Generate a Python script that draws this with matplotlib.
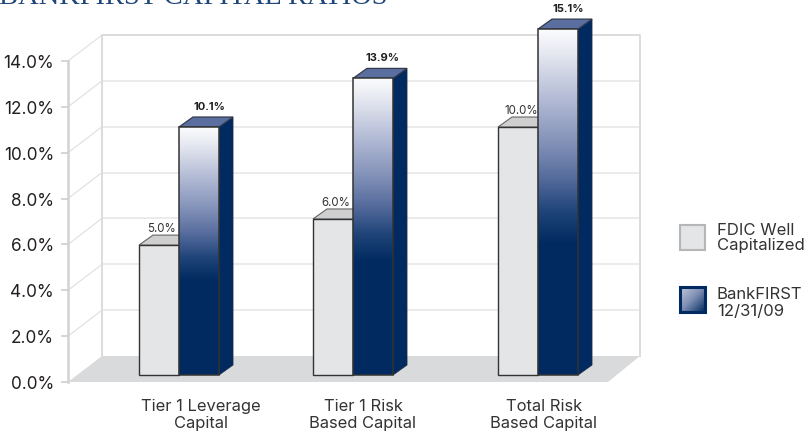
import numpy as np
import matplotlib.pyplot as plt
from matplotlib.colors import LinearSegmentedColormap
from matplotlib.patches import Polygon, Rectangle

plt.rcParams['font.family'] = ['Inter', 'DejaVu Sans']

categories = ['Tier 1 Leverage\nCapital', 'Tier 1 Risk\nBased Capital', 'Total Risk\nBased Capital']
fdic_labels = ['5.0%', '6.0%', '10.0%']
bank_labels = ['10.1%', '13.9%', '15.1%']
# tops as drawn against the axis, the picture does not follow its own labels
fdic_heights = [5.97, 7.11, 11.12]
bank_heights = [11.12, 13.24, 15.39]
y_ticks = [0, 2, 4, 6, 8, 10, 12, 14]
series_names = ['FDIC Well\nCapitalized', 'BankFIRST\n12/31/09']

NAVY = '#002a60'
PX = 22.93  # pixels per axis unit
BASE = 7 / PX  # bars stand a little behind the front edge
WALL_Y = 26 / PX
WALL_X = 34
DEPTH_X = 14
DEPTH_Y = 10 / PX
BAR_W = 40
group_x = [139, 313, 498]

bar_cmap = LinearSegmentedColormap.from_list('bar', [
    (0.0, '#fbfcfd'), (0.12, '#e4e7f0'), (0.32, '#b4bcd6'), (0.5, '#8a98bd'),
    (0.68, '#5a6f9f'), (0.85, '#1f4479'), (1.0, NAVY)])

fig = plt.figure(figsize=(8.09, 4.35), dpi=100)
ax = fig.add_axes([0, 0, 1, 1])
ax.axis('off')

x0, x1 = 68, 608

# floor and walls
ax.add_patch(Polygon([(x0, 0), (x1, 0), (x1 + WALL_X - 2, WALL_Y), (x0 + WALL_X, WALL_Y)],
                     fc='#d9dadb', ec='none', zorder=1))
for t in y_ticks[1:-1]:
    ax.plot([x0 + WALL_X, x1 + WALL_X - 2], [t + WALL_Y, t + WALL_Y], color='#e6e6e6', lw=1.1, zorder=1)
for t in y_ticks[1:]:
    ax.plot([x0, x0 + WALL_X], [t, t + WALL_Y], color='#e2e2e2', lw=0.9, zorder=1)
ax.plot([x0 + WALL_X, x0 + WALL_X, x1 + WALL_X - 2, x1 + WALL_X - 2],
        [WALL_Y, 14 + WALL_Y, 14 + WALL_Y, WALL_Y], color='#dcdcdc', lw=1.4, zorder=1)
ax.plot([x0, x0], [0, 14], color='#d2d2d2', lw=1.8, zorder=2)
for t in y_ticks:
    ax.plot([x0 - 6, x0], [t, t], color='#d2d2d2', lw=1.3, zorder=2)
    ax.text(x0 - 14, t - 1.5 / PX, f'{t:.1f}%', ha='right', va='center', fontsize=12.4, color='#231f20')

edge = '#333333'
for x, hf, hb, lf, lb in zip(group_x, fdic_heights, bank_heights, fdic_labels, bank_labels):
    # FDIC bar
    xb = x + BAR_W
    ax.add_patch(Polygon([(x, hf), (x + DEPTH_X, hf + DEPTH_Y), (xb + DEPTH_X, hf + DEPTH_Y), (xb, hf)],
                         fc='#cfcfcf', ec='#666666', lw=0.8, zorder=3))
    ax.bar(x, hf - BASE, BAR_W, bottom=BASE, align='edge', color='#e4e5e7', ec=edge, lw=1.0, zorder=4)
    # BankFIRST bar: side and top first, gradient front after
    top = hb
    ax.add_patch(Polygon([(xb + BAR_W, BASE), (xb + BAR_W + DEPTH_X, BASE + DEPTH_Y),
                          (xb + BAR_W + DEPTH_X, top + DEPTH_Y), (xb + BAR_W, top)],
                         fc=NAVY, ec='#1c2c48', lw=0.6, zorder=5))
    ax.add_patch(Polygon([(xb, top), (xb + DEPTH_X, top + DEPTH_Y),
                          (xb + BAR_W + DEPTH_X, top + DEPTH_Y), (xb + BAR_W, top)],
                         fc='#5a6f9f', ec='#333a4d', lw=0.9, zorder=5))
    span = top - BASE
    grad = np.linspace(0, 1, 256).reshape(-1, 1)
    ax.imshow(grad, extent=(xb, xb + BAR_W, top - 0.62 * span, top), aspect='auto', cmap=bar_cmap,
              origin='upper', zorder=6, vmin=0, vmax=1)
    ax.bar(xb, top - 0.62 * span - BASE, BAR_W, bottom=BASE, align='edge', color=NAVY, ec='none', zorder=6)
    ax.bar(xb, span, BAR_W, bottom=BASE, align='edge', color='none', ec=edge, lw=1.1, zorder=7)
    # value labels
    ax.text(x + 23, hf + DEPTH_Y + 0.05, lf, ha='center', va='bottom', fontsize=8.3, color='#333333', zorder=8)
    ax.text(xb + 30, top + DEPTH_Y + 0.26, lb, ha='center', va='bottom', fontsize=8.0, fontweight='bold',
            color='#231f20', zorder=8)

cat_x = [201, 363, 544]
for cx, cat in zip(cat_x, categories):
    ax.text(cx, -32 / PX, cat, ha='center', va='center', fontsize=11.9, color='#333333', linespacing=1.24)

# legend
ax.add_patch(Rectangle((680, (383 - 251) / PX), 25, 25 / PX, fc='#e4e5e7', ec='#b5b6b8', lw=1.5, zorder=3))
ax.text(717, (383 - 238) / PX, series_names[0], va='center', fontsize=12, color='#333333', linespacing=1.04)
ax.text(717, (383 - 303) / PX, series_names[1], va='center', fontsize=12, color='#333333', linespacing=1.16)
gx, gy = np.meshgrid(np.linspace(0, 1, 64), np.linspace(0, 1, 64))
ax.imshow((gx + gy) / 2, extent=(680, 705, (383 - 313) / PX, (383 - 288) / PX), aspect='auto',
          cmap=LinearSegmentedColormap.from_list('sw', ['#c4cade', '#7c8cb2', NAVY]), origin='upper', zorder=4)
ax.add_patch(Rectangle((680, (383 - 313) / PX), 25, 25 / PX, fc='none', ec=NAVY, lw=2.2, zorder=5))

# title is cut off by the top of the picture
ax.text(-1, (383 - 4) / PX, 'BANKFIRST CAPITAL RATIOS', ha='left', va='baseline', fontsize=20.5,
        family='Liberation Serif', color='#1f4679', clip_on=True)

ax.set_xlim(0, 809)
ax.set_ylim(-52 / PX, 383 / PX)
fig.savefig('out.png', dpi=100)
